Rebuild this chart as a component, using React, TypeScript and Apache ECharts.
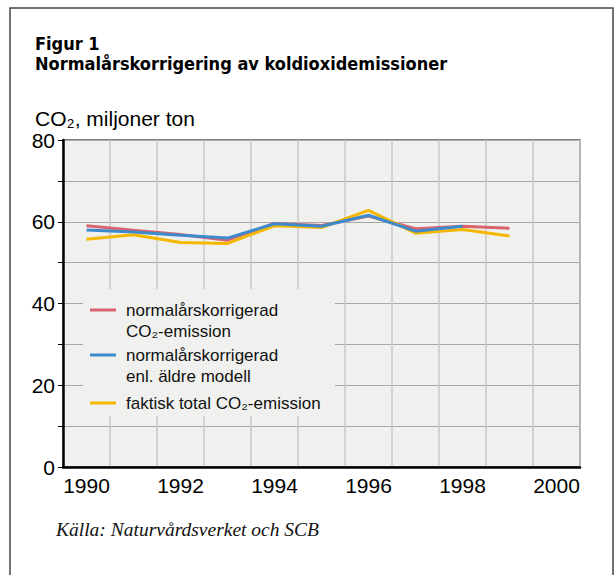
import React, { useEffect, useRef } from "react";
import * as echarts from "echarts";

const years = ["1990", "1991", "1992", "1993", "1994", "1995", "1996", "1997", "1998", "1999", "2000"];
const seriesNames = [
  "normalårskorrigerad\nCO₂-emission",
  "normalårskorrigerad\nenl. äldre modell",
  "faktisk total CO₂-emission",
];
const seriesColors = ["#d9636f", "#3d8bcd", "#f5b800"];
const normalCorrected = [59.0, 57.9, 56.9, 55.5, 59.6, 59.1, 61.4, 58.3, 58.9, 58.4];
const olderModel = [58.0, 57.5, 56.7, 56.0, 59.5, 58.9, 61.6, 57.7, 58.9];
const actualTotal = [55.7, 56.8, 54.9, 54.7, 59.0, 58.6, 62.8, 57.2, 58.1, 56.5];
const yTicks = { min: 0, max: 80, interval: 10, labelEvery: 20 };

const FONT = "'Liberation Sans', Arial, sans-serif";
const TITLE_FONT = "'DejaVu Sans Condensed', 'Liberation Sans', sans-serif";

export default function App() {
  const ref = useRef<HTMLDivElement>(null);
  useEffect(() => {
    if (!ref.current) return;
    const chart = echarts.init(ref.current, null, { renderer: "svg" });
    const plot = { left: 63, top: 140, width: 517, height: 327 };
    const legendRows = [299.5, 344.5, 392.5];
    const legendGraphics: any[] = [
      {
        type: "rect",
        z: 3,
        shape: { x: 83, y: 289, width: 252, height: 127 },
        style: { fill: "#f0f1ef" },
      },
    ];
    seriesNames.forEach((n, i) => {
      legendGraphics.push({
        type: "line",
        z: 4,
        shape: { x1: 90, y1: legendRows[i] + 10.5, x2: 116, y2: legendRows[i] + 10.5 },
        style: { stroke: seriesColors[i], lineWidth: 3 },
      });
      legendGraphics.push({
        type: "text",
        z: 4,
        x: 126,
        y: legendRows[i],
        style: {
          text: n,
          fontFamily: FONT,
          fontSize: 17,
          lineHeight: 21,
          fill: "#111",
          verticalAlign: "top",
        },
      });
    });

    chart.setOption({
      animation: false,
      backgroundColor: "#fff",
      grid: {
        left: plot.left,
        top: plot.top,
        width: plot.width,
        height: plot.height,
        show: true,
        backgroundColor: "#f0f1ef",
        borderColor: "#555",
        borderWidth: 1.5,
        containLabel: false,
        outerBoundsMode: "none",
      },
      xAxis: {
        type: "category",
        data: years,
        boundaryGap: true,
        axisLine: { show: true, lineStyle: { color: "#000", width: 2.5 } },
        axisTick: { show: false },
        axisLabel: { interval: 1, fontSize: 21, color: "#000", fontFamily: FONT, margin: 8 },
        splitLine: { show: true, interval: 0, lineStyle: { color: "#c9c9c9", width: 1.5 } },
      },
      yAxis: {
        type: "value",
        min: yTicks.min,
        max: yTicks.max,
        interval: yTicks.interval,
        axisLine: { show: true, lineStyle: { color: "#000", width: 2.5 } },
        axisTick: { show: true, length: 5, lineStyle: { color: "#000", width: 1 } },
        axisLabel: {
          fontSize: 21,
          color: "#000",
          fontFamily: FONT,
          margin: 8,
          formatter: (v: number) => (v % yTicks.labelEvery === 0 ? String(v) : ""),
        },
        splitLine: { show: true, lineStyle: { color: "#a8a8a8", width: 1 } },
      },
      series: [
        {
          name: seriesNames[0],
          type: "line",
          data: normalCorrected,
          symbol: "none",
          lineStyle: { color: seriesColors[0], width: 3 },
          z: 2,
        },
        {
          name: seriesNames[2],
          type: "line",
          data: actualTotal,
          symbol: "none",
          lineStyle: { color: seriesColors[2], width: 3 },
          z: 3,
        },
        {
          name: seriesNames[1],
          type: "line",
          data: olderModel,
          symbol: "none",
          lineStyle: { color: seriesColors[1], width: 3 },
          z: 4,
        },
      ],
      graphic: [
        {
          type: "rect",
          z: 10,
          shape: { x: 10, y: 8, width: 603, height: 590 },
          style: { fill: "none", stroke: "#444", lineWidth: 1.5 },
        },
        {
          type: "text",
          x: 35,
          y: 43,
          style: {
            text: "Figur 1",
            fontFamily: TITLE_FONT,
            fontWeight: "bold",
            fontSize: 18,
            fill: "#000",
            verticalAlign: "middle",
          },
        },
        {
          type: "text",
          x: 35,
          y: 63.5,
          style: {
            text: "Normalårskorrigering av koldioxidemissioner",
            fontFamily: TITLE_FONT,
            fontWeight: "bold",
            fontSize: 18,
            fill: "#000",
            verticalAlign: "middle",
          },
        },
        {
          type: "text",
          x: 35,
          y: 118,
          style: {
            text: "CO₂, miljoner ton",
            fontFamily: FONT,
            fontSize: 21,
            fill: "#000",
            verticalAlign: "middle",
          },
        },
        {
          type: "text",
          x: 56,
          y: 529,
          style: {
            text: "Källa: Naturvårdsverket och SCB",
            fontFamily: "'Liberation Serif', 'Times New Roman', serif",
            fontStyle: "italic",
            fontSize: 19.5,
            fill: "#111",
            verticalAlign: "middle",
          },
        },
        ...legendGraphics,
      ],
    });
    return () => chart.dispose();
  }, []);
  return (
    <div
      ref={ref}
      style={{ position: "fixed", left: 0, top: 0, width: 615, height: 575 }}
    />
  );
}
